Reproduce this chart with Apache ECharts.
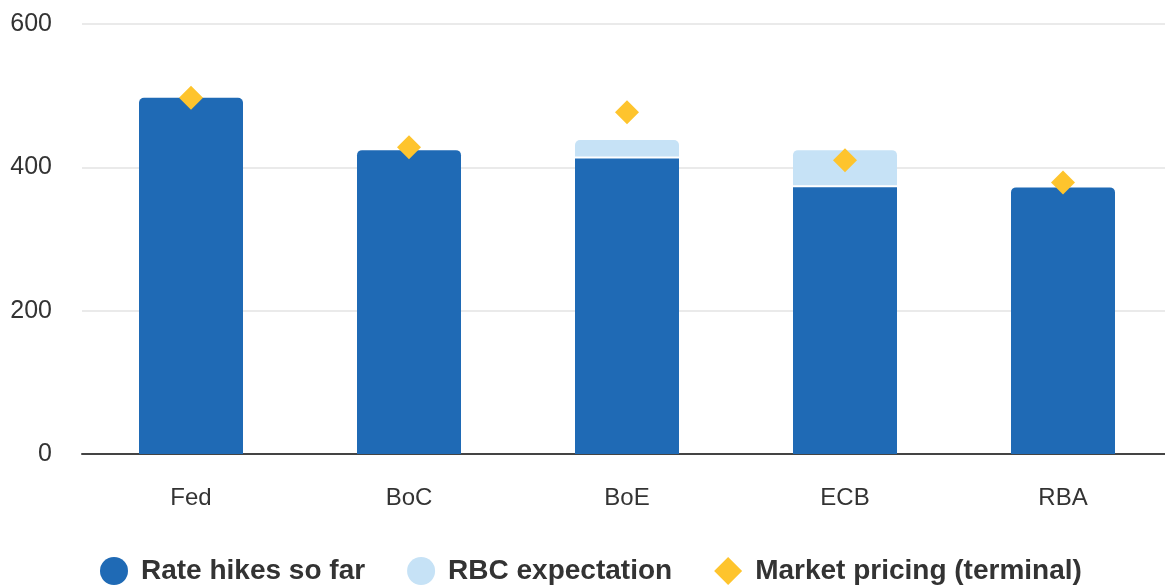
<!DOCTYPE html>
<html lang="en">
<head>
    <meta charset="UTF-8">
    <title>Rate hikes</title>
    <script src="https://cdn.jsdelivr.net/npm/echarts@6/dist/echarts.min.js"></script>
</head>
<body style="margin:0; overflow:hidden;">
    <!-- plot area runs a few px past the right edge, like the original -->
    <div id="main" style="width: 1172px; height: 587px;"></div>

    <script>
        const banks = ['Fed', 'BoC', 'BoE', 'ECB', 'RBA'];
        const hikesSoFar = [497, 424, 415, 375, 372];
        const rbcExtra = [0, 0, 23, 49, 0];         // extra on top of hikes so far
        const marketTerminal = [497, 428, 477, 410, 379];
        const yTicks = [0, 200, 400, 600];

        let chart = echarts.init(document.getElementById('main'));

        const fontFam = '"Liberation Sans", Arial, sans-serif';

        // dark bars get rounded tops only when nothing sits on them
        let hikeData = hikesSoFar.map((v, i) => ({
            value: v,
            itemStyle: { borderRadius: rbcExtra[i] > 0 ? 0 : [5, 5, 0, 0] }
        }));
        let extraData = rbcExtra.map(v => v > 0 ? v : '-');

        let option = {
            animation: false,
            textStyle: { fontFamily: fontFam },
            grid: { left: 82, right: 0, top: 24, bottom: 133 },
            legend: {
                top: 557,
                left: 100,
                padding: 0,
                itemGap: 42,
                itemWidth: 28,
                itemHeight: 28,
                textStyle: {
                    fontSize: 28, fontWeight: 'bold', color: '#333', fontFamily: fontFam,
                    padding: [0, 0, 0, 8]
                },
                data: [
                    { name: 'Rate hikes so far', icon: 'circle' },
                    { name: 'RBC expectation', icon: 'circle' },
                    { name: 'Market pricing (terminal)', icon: 'diamond' }
                ]
            },
            xAxis: {
                type: 'category',
                data: banks,
                axisLine: { lineStyle: { color: '#444', width: 2 } },
                axisTick: { show: false },
                axisLabel: { fontSize: 24, color: '#333', margin: 32, fontFamily: fontFam }
            },
            yAxis: {
                type: 'value',
                min: 0,
                max: 600,
                interval: 200,
                axisLine: { show: false },
                axisTick: { show: false },
                axisLabel: {
                    fontSize: 25, color: '#333', margin: 30, fontFamily: fontFam,
                    formatter: v => yTicks.includes(v) ? String(v) : ''
                },
                splitLine: { lineStyle: { color: '#e3e3e3', width: 1.5 } }
            },
            series: [
                {
                    name: 'Rate hikes so far',
                    type: 'bar',
                    stack: 'total',
                    barWidth: 104,
                    itemStyle: { color: '#1f6ab5' },
                    data: hikeData
                },
                {
                    name: 'RBC expectation',
                    type: 'bar',
                    stack: 'total',
                    barWidth: 104,
                    itemStyle: {
                        color: '#c6e2f6',
                        borderRadius: [5, 5, 0, 0],
                        // white strip just under the light segment
                        shadowColor: '#ffffff',
                        shadowBlur: 0,
                        shadowOffsetY: 2
                    },
                    data: extraData
                },
                {
                    name: 'Market pricing (terminal)',
                    type: 'scatter',
                    symbol: 'diamond',
                    symbolSize: 24,
                    z: 5,
                    itemStyle: { color: '#fec42d', opacity: 1 },
                    data: marketTerminal
                }
            ]
        };

        chart.setOption(option);
    </script>
</body>
</html>
